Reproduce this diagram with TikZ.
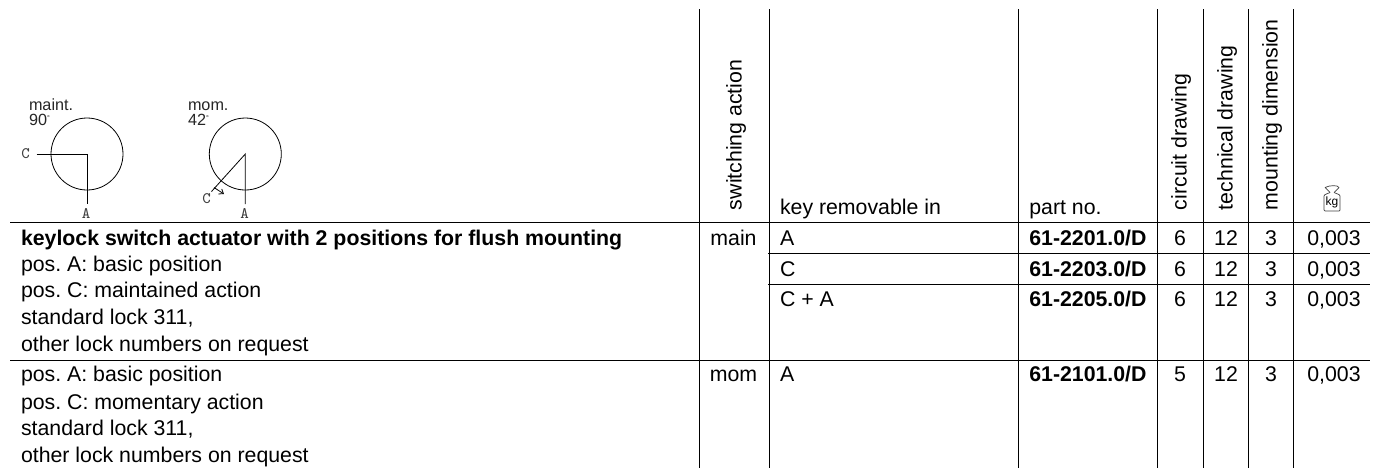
\documentclass[tikz,border=0pt]{standalone}
\usepackage{fontspec}
\usetikzlibrary{arrows.meta}
\setmainfont{Liberation Sans}
\newcommand{\fs}{\fontsize{10.65pt}{12pt}\selectfont\frenchspacing}
\begin{document}
\begin{tikzpicture}[x=0.5pt,y=-0.5pt,
  rule/.style={line width=0.55pt,black},
  thin rule/.style={line width=0.4pt,black},
  txt/.style={font=\fs,anchor=base west,inner sep=0pt,outer sep=0pt},
  ctr/.style={font=\fs,anchor=base,inner sep=0pt,outer sep=0pt},
  head/.style={font=\fs,anchor=base west,rotate=90,inner sep=0pt,outer sep=0pt},
  small/.style={font=\fontsize{8.1pt}{9pt}\selectfont,text=black!85,anchor=base west,inner sep=0pt,outer sep=0pt},
  mono/.style={font=\fontsize{8pt}{9pt}\ttfamily\selectfont,text=black!75,anchor=base,inner sep=0pt,outer sep=0pt}]
\useasboundingbox (0,0) rectangle (1375,468);
% grid
\foreach \n/\x in {a/699.5,b/769.5,c/1018.5,d/1157.3,e/1203.6,f/1248.3,g/1293.4}{
  \coordinate (\n t) at (\x,9);
  \coordinate (\n b) at (\x,468);
  \draw[rule] (\n t) -- (\n b);
}
\coordinate (l1) at (10,222.3); \coordinate (r1) at (1370,222.3);
\coordinate (l2) at (768,253.3); \coordinate (r2) at (1370,253.3);
\coordinate (l3) at (768,284.3); \coordinate (r3) at (1370,284.3);
\coordinate (l4) at (10,360.3); \coordinate (r4) at (1370,360.3);
\draw[rule] (l1)--(r1) (l2)--(r2) (l3)--(r3) (l4)--(r4);
% actuator diagrams
\node[small] (m1) at (29,110.5) {maint.};
\node[small] (m2) at (29,125) {90\raisebox{2.5pt}{\fontsize{3.5pt}{3.5pt}\selectfont\textdegree}};
\node[small] (m3) at (188,110.5) {mom.};
\node[small] (m4) at (188,125) {42\raisebox{2.5pt}{\fontsize{3.5pt}{3.5pt}\selectfont\textdegree}};
\coordinate (c1) at (87,154);
\coordinate (c2) at (245.3,154);
\draw[thin rule] (c1) circle[radius=36];
\draw[thin rule] (c2) circle[radius=36];
\coordinate (c1C) at (36.5,154); \coordinate (c1A) at (87,204);
\draw[thin rule] (c1C) -- (c1) -- (c1A);
\coordinate (c2C) at (211.5,191.5); \coordinate (c2A) at (245.3,204);
\draw[thin rule] (c2C) -- (c2) -- (c2A);
\coordinate (t1) at (214,187.5); \coordinate (t2) at (224,194);
\draw[thin rule,-{Straight Barb[length=2pt,width=3pt]}] (t1) -- (t2);
\node[mono] (lc1) at (25.5,158) {C};
\node[mono] (la1) at (86,218) {A};
\node[mono] (lc2) at (206.5,203.5) {C};
\node[mono] (la2) at (244.5,218) {A};
% headers
\node[head] (h1) at (741.7,210) {switching action};
\node[txt] (h2) at (780,214) {key removable in};
\node[txt] (h3) at (1029.3,214) {part no.};
\node[head] (h4) at (1186.5,210) {circuit drawing};
\node[head] (h5) at (1232.5,210) {technical drawing};
\node[head] (h6) at (1277.5,210) {mounting dimension};
% weight icon
\draw[line width=0.35pt,black!75] (1325,187.5) .. controls (1330,185) and (1338,185) .. (1339,187.5)
  (1325,187.5) .. controls (1326,190) and (1329,190) .. (1330,192.5) (1339,187.5) .. controls (1338,190) and (1335,190) .. (1334,192.5);
\draw[line width=0.35pt,black!75,rounded corners=0.5pt] (1330,192.5) -- (1324,195) -- (1324,211) -- (1340,211) -- (1340,195) -- (1334,192.5);
\node[font=\fontsize{6pt}{6pt}\selectfont,inner sep=0pt] (kg) at (1332,202.5) {kg};
% left text
\node[txt,font=\fs\bfseries] (t01) at (21,245) {keylock switch actuator with 2 positions for flush mounting};
\node[txt] (t02) at (21,271) {pos. A: basic position};
\node[txt] (t03) at (21,297.7) {pos. C: maintained action};
\node[txt] (t04) at (21,324.3) {standard lock 311,};
\node[txt] (t05) at (21,351) {other lock numbers on request};
\node[txt] (t06) at (21,381.7) {pos. A: basic position};
\node[txt] (t07) at (21,409) {pos. C: momentary action};
\node[txt] (t08) at (21,435.7) {standard lock 311,};
\node[txt] (t09) at (21,462.3) {other lock numbers on request};
% rows
\node[ctr] (a1) at (733.5,245) {main};
\node[ctr] (a2) at (733.5,381.7) {mom};
\node[txt] (k1) at (780,245) {A};
\node[txt] (k2) at (780,276) {C};
\node[txt] (k3) at (780,306) {C + A};
\node[txt] (k4) at (780,381.7) {A};
\node[txt,font=\fs\bfseries] (p1) at (1029.3,245) {61-2201.0/D};
\node[txt,font=\fs\bfseries] (p2) at (1029.3,276) {61-2203.0/D};
\node[txt,font=\fs\bfseries] (p3) at (1029.3,306) {61-2205.0/D};
\node[txt,font=\fs\bfseries] (p4) at (1029.3,381.7) {61-2101.0/D};
\foreach \n/\y/\v in {1/245/6,2/276/6,3/306/6,4/381.7/5}{
  \node[ctr] (ci\n) at (1180,\y) {\v};
  \node[ctr] (te\n) at (1226,\y) {12};
  \node[ctr] (mo\n) at (1271,\y) {3};
  \node[ctr] (we\n) at (1334,\y) {0,003};
}
\end{tikzpicture}
\end{document}
